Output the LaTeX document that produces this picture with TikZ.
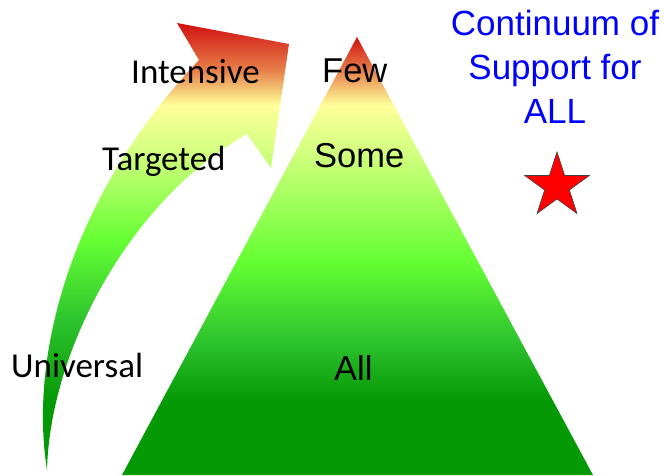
\documentclass[tikz,border=0pt]{standalone}
\usepackage{fontspec}
\setmainfont{Liberation Sans}
\newfontfamily\calfont{Carlito}
\usetikzlibrary{shapes.geometric}
\definecolor{rd}{HTML}{D01010}
\definecolor{orng}{HTML}{E8804A}
\definecolor{ylw}{HTML}{FFFF99}
\definecolor{lgr}{HTML}{D4FF80}
\definecolor{bgr}{HTML}{66FF33}
\definecolor{mgr}{HTML}{2EC42E}
\definecolor{dgr}{HTML}{069906}
\pgfdeclareverticalshading{trishade}{100bp}{color(0bp)=(dgr); color(25bp)=(dgr); color(33.6bp)=(dgr); color(40.4bp)=(mgr); color(49.5bp)=(bgr); color(62.1bp)=(lgr); color(67.2bp)=(ylw); color(71.2bp)=(orng); color(75bp)=(rd); color(100bp)=(rd)}
\pgfdeclareverticalshading{arrshade}{100bp}{color(0bp)=(dgr); color(25bp)=(dgr); color(32.8bp)=(dgr); color(41.8bp)=(mgr); color(50.7bp)=(bgr); color(60.8bp)=(lgr); color(65.8bp)=(ylw); color(69.7bp)=(orng); color(75bp)=(rd); color(100bp)=(rd)}
\tikzset{
  lbl/.style={anchor=base west, inner sep=0pt, font=\calfont\fontsize{35}{42}\selectfont},
  tlbl/.style={anchor=base west, inner sep=0pt, font=\fontsize{34.5}{42}\selectfont},
}
\begin{document}
\begin{tikzpicture}[x=1pt,y=-1pt]
\useasboundingbox (0,0) rectangle (664,475);
% pyramid
\coordinate (apex) at (357,37);
\coordinate (bl) at (122,475);
\coordinate (br) at (593,475);
\shade[shading=trishade] (apex) -- (br) -- (bl) -- cycle;
% curved arrow
\coordinate (tip) at (289,44);
\coordinate (lc) at (271,168);
\coordinate (inotch) at (247,134);
\coordinate (bot) at (47,470);
\coordinate (onotch) at (199,60);
\coordinate (uc) at (177,23);
\shade[shading=arrshade] (tip) -- (lc) -- (inotch)
  .. controls (130,200) and (50,350) .. (bot)
  .. controls (28,350) and (75,190) .. (onotch)
  -- (uc) -- cycle;
% labels
\node[lbl] (intensive) at (131,83) {Intensive};
\node[lbl] (targeted) at (102,170) {Targeted};
\node[lbl] (universal) at (11,377) {Universal};
\node[tlbl] (few) at (322,82) {Few};
\node[tlbl] (some) at (314,167) {Some};
\node[tlbl] (all) at (334,380) {All};
\node[align=center, inner sep=0pt, text=blue, font=\fontsize{35}{44}\selectfont, anchor=north] (title) at (555,10) {Continuum of\\Support for\\ALL};
\node[star, star points=5, star point ratio=2.618, minimum size=68pt, inner sep=0pt, fill=red, draw=black!75, line width=0.6pt] (star) at (557,186) {};
\end{tikzpicture}
\end{document}
